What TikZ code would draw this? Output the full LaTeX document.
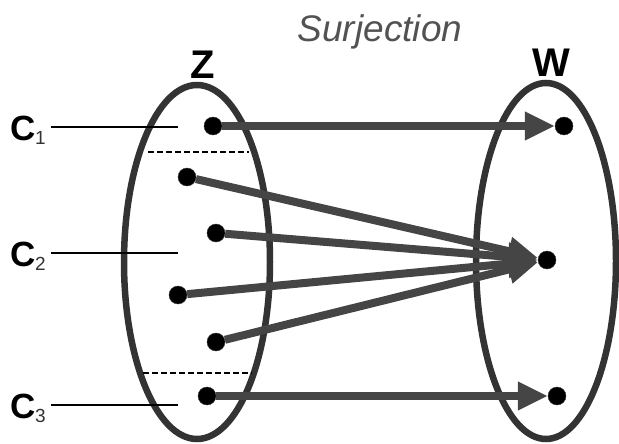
\documentclass[tikz,border=0pt]{standalone}
\usepackage{fontspec}
\setmainfont{Liberation Sans}
\usetikzlibrary{arrows.meta}
\definecolor{ink}{HTML}{333333}
\definecolor{arr}{HTML}{454545}
\tikzset{
  setell/.style={draw=ink, line width=6.5pt},
  dot/.style={circle, fill=black, draw=black!80, inner sep=0pt, minimum size=18pt},
  maparrow/.style={draw=arr, line width=8pt, -{Triangle[length=30pt,width=27pt]}},
  setlbl/.style={font=\fontsize{40}{40}\selectfont\bfseries, text=black, inner sep=0pt},
  clbl/.style={font=\fontsize{35}{35}\selectfont\bfseries, text=black, anchor=base west, inner sep=0pt},
  subnum/.style={font=\fontsize{19}{19}\selectfont, text=black!80, anchor=base west, inner sep=0pt},
  leader/.style={draw=black, line width=1.8pt},
  divider/.style={draw=black, line width=2pt, dash pattern=on 6pt off 3pt},
}
\begin{document}
\begin{tikzpicture}[x=1pt,y=-1pt]
\useasboundingbox (0,0) rectangle (619,444);
% sets
\draw[setell] (197,262) ellipse [x radius=73, y radius=177];
\draw[setell] (546,261) ellipse [x radius=70, y radius=178];
% titles
\node[font=\fontsize{37}{37}\selectfont\itshape, text=black!68] (title) at (380,32) {Surjection};
\node[setlbl, anchor=base] (zl) at (203,78) {Z};
\node[setlbl, anchor=base] (wl) at (551,77) {W};
% dividers
\coordinate (d1a) at (148,152); \coordinate (d1b) at (249,152);
\coordinate (d2a) at (143,373); \coordinate (d2b) at (252,373);
\draw[divider] (d1a) -- (d1b);
\draw[divider] (d2a) -- (d2b);
% class labels
\node[clbl] (c1) at (10,140) {C};
\node[subnum] (n1) at (35,144) {1};
\node[clbl] (c2) at (10,266) {C};
\node[subnum] (n2) at (35,270) {2};
\node[clbl] (c3) at (10,418) {C};
\node[subnum] (n3) at (35,422) {3};
\coordinate (e1) at (178,127);
\coordinate (e2) at (178,253);
\coordinate (e3) at (178,405);
\coordinate (s1) at (51,127);
\coordinate (s2) at (51,253);
\coordinate (s3) at (51,405);
\draw[leader] (s1) -- (e1);
\draw[leader] (s2) -- (e2);
\draw[leader] (s3) -- (e3);
% dots
\node[dot] (z1) at (213,126) {};
\node[dot] (z2) at (187,177) {};
\node[dot] (z3) at (216,233) {};
\node[dot] (z4) at (178,295) {};
\node[dot] (z5) at (216,342) {};
\node[dot] (z6) at (207,396) {};
\node[dot] (w1) at (564,126) {};
\node[dot] (w2) at (547,260) {};
\node[dot] (w3) at (557,396) {};
% arrows
\draw[maparrow] (z1) -- (w1);
\draw[maparrow] (z2) -- (w2);
\draw[maparrow] (z3) -- (w2);
\draw[maparrow] (z4) -- (w2);
\draw[maparrow] (z5) -- (w2);
\draw[maparrow] (z6) -- (w3);
\end{tikzpicture}
\end{document}
